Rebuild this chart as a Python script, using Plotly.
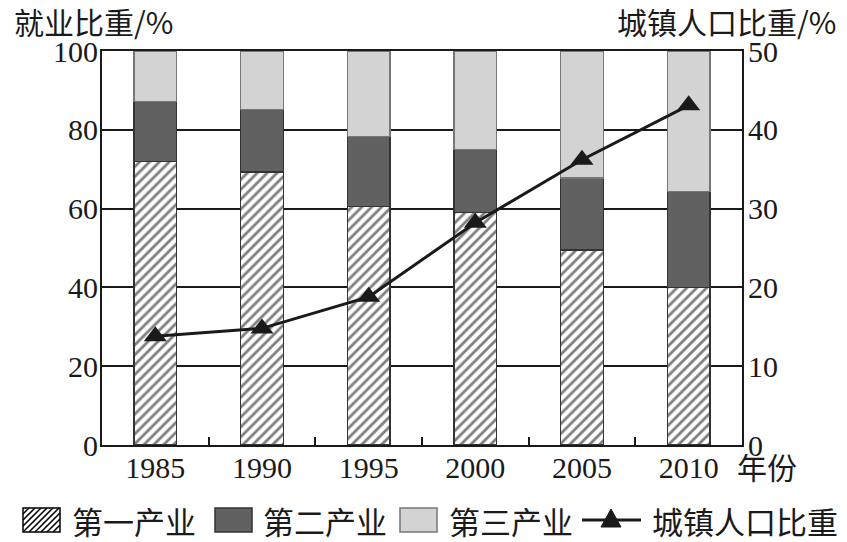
import plotly.graph_objects as go

years = ["1985", "1990", "1995", "2000", "2005", "2010"]
primary = [72, 69.3, 60.5, 59, 49.5, 40]          # 第一产业 (%)
secondary = [15.2, 15.8, 17.8, 16, 18.3, 24.3]    # 第二产业 (%)
tertiary = [12.8, 14.9, 21.7, 25, 32.2, 35.7]     # 第三产业 (%)
urban = [13.8, 14.8, 18.8, 28.2, 36.2, 43.1]      # 城镇人口比重 (%)
legend_names = ["第一产业", "第二产业", "第三产业", "城镇人口比重"]

SERIF = "Liberation Serif"
CJK = "Noto Sans CJK SC"
INK = "#1a1a1a"
DARK = "#616161"
LIGHT = "#d3d3d3"

W, H = 847, 542
ML, MR, MT, MB = 102, 105, 51, 97
PW, PH = W - ML - MR, H - MT - MB


def px(x):
    return (x - ML) / PW


def py(y):
    return (H - MB - y) / PH


fig = go.Figure()
fig.add_trace(go.Bar(
    x=years, y=primary, name=legend_names[0], width=0.4, showlegend=False,
    marker=dict(color="white", line=dict(color="#333333", width=1.5),
                pattern=dict(shape="/", fgcolor="black", bgcolor="white",
                             size=7, solidity=0.4)),
))
fig.add_trace(go.Bar(
    x=years, y=secondary, name=legend_names[1], width=0.4, showlegend=False,
    marker=dict(color=DARK, line=dict(color="#333333", width=1.5)),
))
fig.add_trace(go.Bar(
    x=years, y=tertiary, name=legend_names[2], width=0.4, showlegend=False,
    marker=dict(color=LIGHT, line=dict(color="#777777", width=1.5)),
))
fig.add_trace(go.Scatter(
    x=years, y=urban, name=legend_names[3], yaxis="y2", mode="lines+markers",
    showlegend=False,
    line=dict(color=INK, width=3),
    marker=dict(symbol="triangle-up", size=20, color=INK),
))

# ---- hand-drawn legend (glyphs as shapes, labels as annotations) ----
shapes = []
sw_y0, sw_y1 = 508, 532
swatches = [(23, 60), (215, 252), (400, 437)]
hx0, hx1 = swatches[0]
hh = sw_y1 - sw_y0
a = hx0 - hh
while a < hx1:
    xs, xe = max(a, hx0), min(a + hh, hx1)
    if xe > xs:
        shapes.append(dict(type="line", xref="paper", yref="paper",
                           x0=px(xs), y0=py(sw_y1 - (xs - a)),
                           x1=px(xe), y1=py(sw_y1 - (xe - a)),
                           line=dict(color="black", width=1.6)))
    a += 6
shapes.append(dict(type="rect", xref="paper", yref="paper",
                   x0=px(hx0), x1=px(hx1), y0=py(sw_y1), y1=py(sw_y0),
                   line=dict(color="black", width=1.5)))
for (x0, x1), fill, edge in [(swatches[1], DARK, "#333333"), (swatches[2], LIGHT, "#777777")]:
    shapes.append(dict(type="rect", xref="paper", yref="paper",
                       x0=px(x0), x1=px(x1), y0=py(sw_y1), y1=py(sw_y0),
                       fillcolor=fill, line=dict(color=edge, width=1.5)))
ly = 520
shapes.append(dict(type="line", xref="paper", yref="paper",
                   x0=px(582), x1=px(641), y0=py(ly), y1=py(ly),
                   line=dict(color=INK, width=3)))
tcx = 611
shapes.append(dict(type="path", xref="paper", yref="paper",
                   path=f"M {px(tcx-10)} {py(ly+7)} L {px(tcx+10)} {py(ly+7)} L {px(tcx)} {py(ly-11)} Z",
                   fillcolor=INK, line=dict(color=INK, width=1)))

annotations = [
    dict(text="就业比重/%", xref="paper", yref="paper", x=px(12), y=py(21),
         xanchor="left", yanchor="middle", showarrow=False,
         font=dict(family=CJK, size=30, color=INK)),
    dict(text="城镇人口比重/%", xref="paper", yref="paper", x=px(838), y=py(21),
         xanchor="right", yanchor="middle", showarrow=False,
         font=dict(family=CJK, size=30, color=INK)),
    dict(text="年份", xref="paper", yref="paper", x=px(735), y=py(466),
         xanchor="left", yanchor="middle", showarrow=False,
         font=dict(family=CJK, size=30, color=INK)),
]
for name, x_left in zip(legend_names, [70, 261, 447, 650]):
    annotations.append(dict(text=name, xref="paper", yref="paper", x=px(x_left), y=py(520),
                            xanchor="left", yanchor="middle", showarrow=False,
                            font=dict(family=CJK, size=31, color=INK)))

fig.update_layout(
    width=W, height=H,
    margin=dict(l=ML, r=MR, t=MT, b=MB, autoexpand=False),
    paper_bgcolor="white", plot_bgcolor="white",
    barmode="stack", showlegend=False,
    font=dict(family=SERIF, size=30, color=INK),
    xaxis=dict(
        type="category", range=[-0.5, 5.5], automargin=False,
        showline=True, linecolor=INK, linewidth=2, mirror=True,
        ticks="inside", tickson="boundaries", ticklen=8, tickwidth=2, tickcolor=INK,
        showgrid=False, ticklabelstandoff=-5,
        tickfont=dict(family=SERIF, size=30, color=INK),
    ),
    yaxis=dict(
        range=[0, 100], dtick=20, showline=True, linecolor=INK, linewidth=2,
        showgrid=True, gridcolor=INK, gridwidth=2, zeroline=False, automargin=False,
        ticks="", ticklabelstandoff=-4,
        tickfont=dict(family=SERIF, size=30, color=INK),
    ),
    yaxis2=dict(
        range=[0, 50], dtick=10, overlaying="y", side="right", automargin=False,
        showline=True, linecolor=INK, linewidth=2, showgrid=False, zeroline=False,
        ticks="", ticklabelstandoff=-2,
        tickfont=dict(family=SERIF, size=30, color=INK),
    ),
    shapes=shapes,
    annotations=annotations,
)

fig.write_html("out.html")
